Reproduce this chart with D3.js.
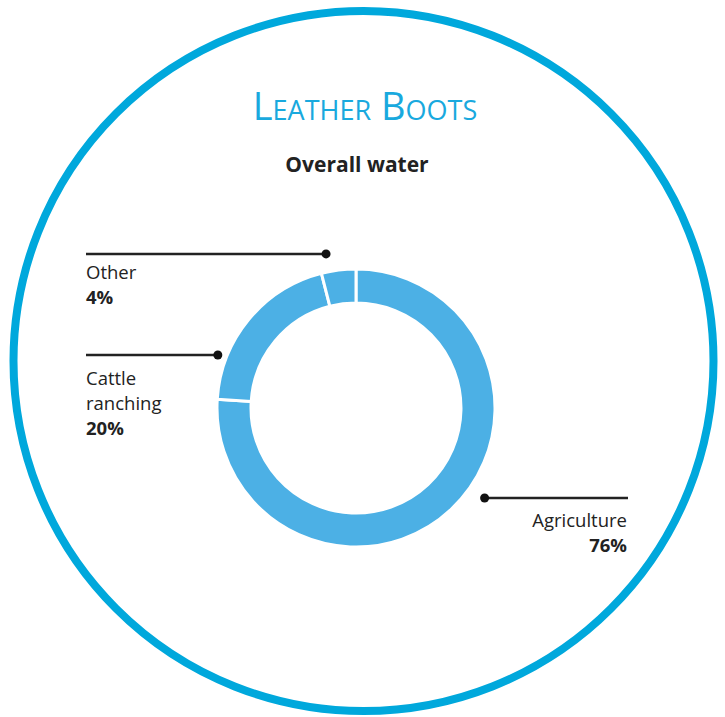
<!DOCTYPE html>
<html>
<head>
<meta charset="utf-8">
<script src="https://cdn.jsdelivr.net/npm/d3@7"></script>
<style>
  body { margin: 0; background: #fff; }
  text { font-family: "Open Sans", sans-serif; }
</style>
</head>
<body>
<script>
// data
const categories = ["Agriculture", "Cattle ranching", "Other"];
const values = [76, 20, 4];
const labelLines = [["Agriculture"], ["Cattle", "ranching"], ["Other"]];
const pctLabels = ["76%", "20%", "4%"];

const width = 725, height = 717;
const cx = 356, cy = 408;
const outerR = 139, innerR = 105;

const svg = d3.select("body").append("svg")
    .attr("width", width)
    .attr("height", height);

// outer frame circle
svg.append("circle")
    .attr("cx", 363.5)
    .attr("cy", 361)
    .attr("r", 350)
    .attr("fill", "none")
    .attr("stroke", "#00a8dc")
    .attr("stroke-width", 8);

svg.append("text")
    .attr("x", 365)
    .attr("y", 120)
    .attr("text-anchor", "middle")
    .style("font-variant", "small-caps")
    .style("font-size", "38px")
    .style("font-weight", 400)
    .attr("fill", "#19a9de")
    .text("Leather Boots");

svg.append("text")
    .attr("x", 357)
    .attr("y", 172)
    .attr("text-anchor", "middle")
    .style("font-size", "21px")
    .style("font-weight", 700)
    .attr("fill", "#222")
    .text("Overall water");

const pie = d3.pie().sort(null).value(d => d);
const arc = d3.arc().innerRadius(innerR).outerRadius(outerR);

const g = svg.append("g").attr("transform", `translate(${cx},${cy})`);
g.selectAll("path")
    .data(pie(values))
    .enter().append("path")
    .attr("d", arc)
    .attr("fill", "#4cb0e5")
    .attr("stroke", "#fff")
    .attr("stroke-width", 3);

// annotations: dot angle (deg) / radius from center, line end x, text side
const notes = [
    {i: 0, angle: 125, r: 157, lineTo: 628, anchor: "end", tx: 627, ty: 527},
    {i: 1, angle: -69, r: 148, lineTo: 86, anchor: "start", tx: 86, ty: 385},
    {i: 2, angle: -11, r: 157, lineTo: 86, anchor: "start", tx: 86, ty: 279}
];

notes.forEach(n => {
    const p = d3.pointRadial(n.angle * Math.PI / 180, n.r);
    const x = cx + p[0], y = cy + p[1];
    svg.append("line")
        .attr("x1", x).attr("y1", y)
        .attr("x2", n.lineTo).attr("y2", y)
        .attr("stroke", "#222")
        .attr("stroke-width", 2.5);
    svg.append("circle")
        .attr("cx", x).attr("cy", y)
        .attr("r", 4.5)
        .attr("fill", "#111");
    const t = svg.append("text")
        .attr("text-anchor", n.anchor)
        .style("font-size", "18.5px")
        .attr("fill", "#222");
    labelLines[n.i].forEach((s, k) => {
        t.append("tspan")
            .attr("x", n.tx)
            .attr("y", n.ty + k * 25)
            .text(s);
    });
    t.append("tspan")
        .attr("x", n.tx)
        .attr("y", n.ty + labelLines[n.i].length * 25)
        .style("font-weight", 700)
        .text(pctLabels[n.i]);
});
</script>
</body>
</html>
